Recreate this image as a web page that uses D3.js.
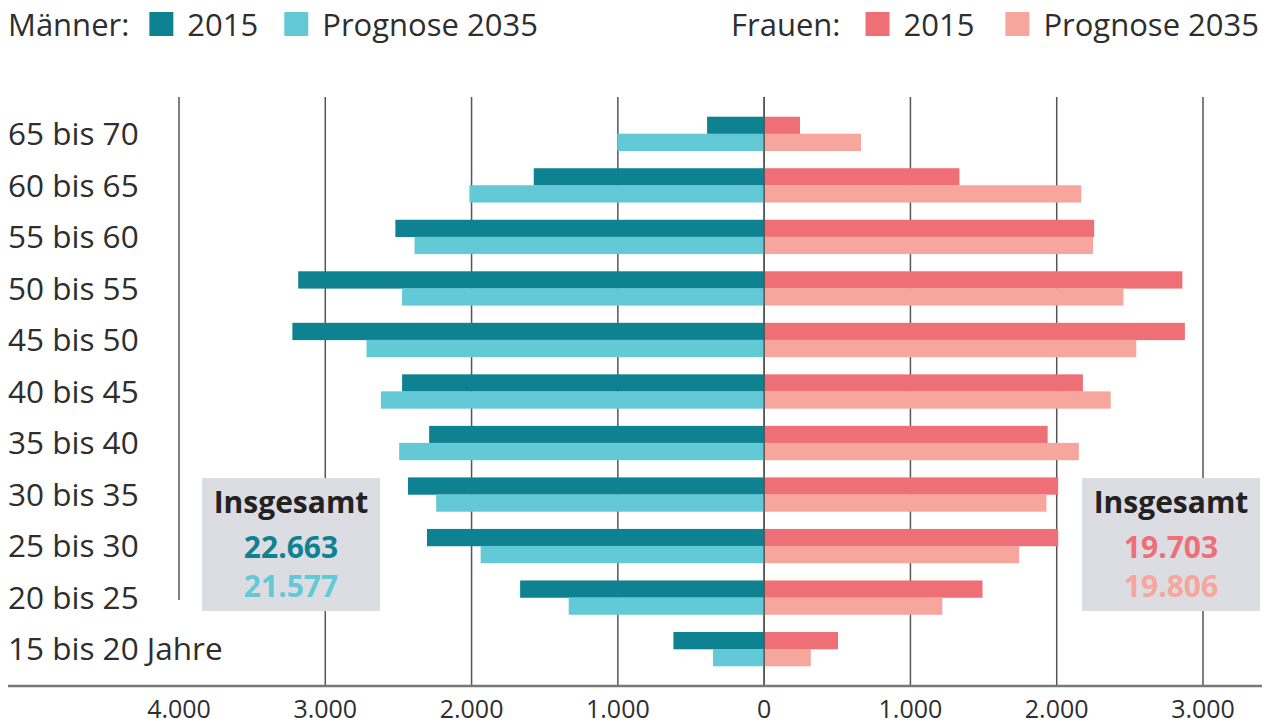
<!DOCTYPE html>
<html><head><meta charset="utf-8">
<script src="https://cdn.jsdelivr.net/npm/d3@7"></script>
<style>
html,body{margin:0;padding:0;background:#fff;}
svg{display:block;font-family:"Open Sans","Noto Sans",sans-serif;}
</style></head>
<body>
<svg id="c" width="1274" height="726"></svg>
<script>
const ageGroups = ["65 bis 70","60 bis 65","55 bis 60","50 bis 55","45 bis 50","40 bis 45","35 bis 40","30 bis 35","25 bis 30","20 bis 25","15 bis 20 Jahre"];
const men2015   = [390,1575,2521,3185,3225,2475,2290,2435,2305,1668,620];
const men2035   = [1004,2015,2390,2475,2718,2620,2495,2242,1938,1336,350];
const women2015 = [245,1335,2256,2859,2876,2179,1938,2010,2010,1493,505];
const women2035 = [662,2168,2248,2456,2544,2369,2151,1930,1743,1218,319];
const tickValues = [-4000,-3000,-2000,-1000,0,1000,2000,3000];
const tickLabels = ["4.000","3.000","2.000","1.000","0","1.000","2.000","3.000"];
const years = ["2015","Prognose 2035"];
const menTotals = ["22.663","21.577"];
const womenTotals = ["19.703","19.806"];

const C = {m15:"#0e8291", m35:"#63c9d6", w15:"#ef6f76", w35:"#f6a69c", text:"#2e2e2e", grid:"#555", box:"#dcdde2"};
const svg = d3.select("#c");

const x = d3.scaleLinear().domain([-4000,3000]).range([179,1203]);
const y = d3.scaleBand().domain(ageGroups).range([116.7,666]).paddingInner(0.34).paddingOuter(0);
const sub = d3.scaleBand().domain(["2015","2035"]).range([0,y.bandwidth()]);

// grid lines
svg.append("g").selectAll("line").data(tickValues).join("line")
  .attr("x1",d=>x(d)).attr("x2",d=>x(d))
  .attr("y1",97).attr("y2",d=>d===-4000?600:686)
  .attr("stroke",C.grid).attr("stroke-width",1.5);

// bars
const rows = ageGroups.map((g,i)=>({g,m15:men2015[i],m35:men2035[i],w15:women2015[i],w35:women2035[i]}));
const bars = svg.append("g");
[["m15","2015",-1],["m35","2035",-1],["w15","2015",1],["w35","2035",1]].forEach(([k,yr,s])=>{
  bars.selectAll("rect."+k).data(rows).join("rect").attr("class",k)
    .attr("x",d=>Math.min(x(0),x(s*d[k])))
    .attr("width",d=>Math.abs(x(s*d[k])-x(0)))
    .attr("y",d=>y(d.g)+sub(yr))
    .attr("height",sub.bandwidth()+0.3)
    .attr("fill",C[k]);
});
svg.append("line").attr("x1",x(0)).attr("x2",x(0)).attr("y1",97).attr("y2",686)
  .attr("stroke",C.grid).attr("stroke-width",1.5);

// category labels
svg.append("g").selectAll("text").data(ageGroups).join("text")
  .attr("x",8).attr("y",d=>y(d)+y.bandwidth()/2).attr("dy","0.36em")
  .attr("font-size",31.5).attr("fill",C.text).text(d=>d);

// axis
const axis = svg.append("g").attr("transform","translate(0,686)");
axis.append("line").attr("x1",8).attr("x2",1262).attr("stroke","#777").attr("stroke-width",2.5);
axis.selectAll("text").data(tickValues).join("text")
  .attr("x",d=>x(d)).attr("y",32).attr("text-anchor","middle")
  .attr("font-size",25).attr("fill",C.text).text((d,i)=>tickLabels[i]);

// totals boxes
function box(x0,x1,totals,cols){
  const g = svg.append("g");
  g.append("rect").attr("x",x0).attr("y",478).attr("width",x1-x0).attr("height",133).attr("fill",C.box);
  const cx=(x0+x1)/2;
  g.append("text").attr("x",cx).attr("y",513).attr("text-anchor","middle").attr("font-size",30).attr("font-weight",700).attr("fill","#222").text("Insgesamt");
  g.selectAll("text.v").data(totals).join("text").attr("class","v")
    .attr("x",cx).attr("y",(d,i)=>558+i*39).attr("text-anchor","middle")
    .attr("font-size",30).attr("font-weight",700).attr("fill",(d,i)=>cols[i]).text(d=>d);
}
box(202,380,menTotals,[C.m15,C.m35]);
box(1082,1260,womenTotals,[C.w15,C.w35]);

// legends
function legend(x0,label,cols,anchorRight,gapExtra){
  const g = svg.append("g");
  let cx = x0;
  const t = g.append("text").attr("x",cx).attr("y",36).attr("font-size",31).attr("fill",C.text).text(label);
  cx += t.node().getComputedTextLength()+20+gapExtra;
  years.forEach((yr,i)=>{
    g.append("rect").attr("x",cx).attr("y",12).attr("width",24).attr("height",24).attr("fill",cols[i]);
    cx += 24+14;
    const tt = g.append("text").attr("x",cx).attr("y",36).attr("font-size",31).attr("fill",C.text).text(yr);
    cx += tt.node().getComputedTextLength()+26+gapExtra;
  });
  if(anchorRight!==undefined){
    const w = cx-26-gapExtra-x0;
    g.attr("transform",`translate(${anchorRight-w-x0},0)`);
  }
}
legend(8,"Männer:",[C.m15,C.m35],undefined,0);
legend(0,"Frauen:",[C.w15,C.w35],1259,5);
</script>
</body></html>
